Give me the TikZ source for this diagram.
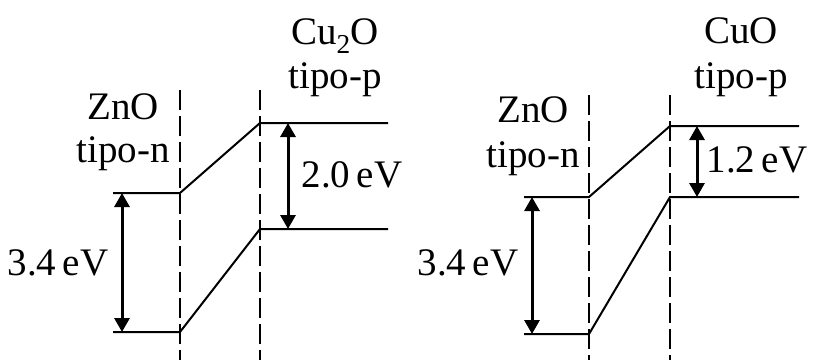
\documentclass[tikz,border=0pt]{standalone}
\usepackage{fontspec}
\setmainfont{Liberation Serif}
\usetikzlibrary{arrows.meta}
\begin{document}
\begin{tikzpicture}[x=1pt,y=-1pt,
  band/.style={line width=2pt},
  iface/.style={line width=1.8pt,dash pattern=on 20pt off 6pt},
  gap/.style={line width=3pt,{Triangle[width=15pt,length=14pt]}-{Triangle[width=15pt,length=14pt]}},
  lbl/.style={font=\fontsize{39}{44}\selectfont,inner sep=0pt,anchor=base},
  mat/.style={font=\fontsize{39}{44}\selectfont,inner sep=0pt,align=center,anchor=base}]
\useasboundingbox (0,0) rectangle (814,360);
% ---- left panel ----
\coordinate (LiA) at (180,90); \coordinate (LiAb) at (180,360);
\coordinate (LiB) at (260,90); \coordinate (LiBb) at (260,360);
\coordinate (LcL) at (113,193); \coordinate (LcM) at (180,193);
\coordinate (LvL) at (113,332); \coordinate (LvM) at (180,332);
\coordinate (LcR) at (260,123); \coordinate (LcE) at (388,123);
\coordinate (LvR) at (260,229); \coordinate (LvE) at (388,229);
\coordinate (La1) at (122,193); \coordinate (La2) at (122,332);
\coordinate (Lb1) at (288,123); \coordinate (Lb2) at (288,229);
\draw[iface] (LiA) -- (LiAb);
\draw[iface] (LiB) -- (LiBb);
\draw[band] (LcL) -- (LcM) -- (LcR) -- (LcE);
\draw[band] (LvL) -- (LvM) -- (LvR) -- (LvE);
\draw[gap] (La1) -- (La2);
\draw[gap] (Lb1) -- (Lb2);
\node[mat] (Lzn) at (123,162) {ZnO\\[-1pt]tipo-n};
\node[mat] (Lcu) at (335,88) {Cu\textsubscript{2}O\\tipo-p};
\node[lbl] (Lg1) at (58,275) {3.4\,eV};
\node[lbl] (Lg2) at (352,187) {2.0\,eV};
% ---- right panel ----
\coordinate (RiA) at (589,95); \coordinate (RiAb) at (589,360);
\coordinate (RiB) at (670,95); \coordinate (RiBb) at (670,360);
\coordinate (RcL) at (524,197); \coordinate (RcM) at (589,197);
\coordinate (RvL) at (524,334); \coordinate (RvM) at (589,334);
\coordinate (RcR) at (670,126); \coordinate (RcE) at (799,126);
\coordinate (RvR) at (670,197); \coordinate (RvE) at (799,197);
\coordinate (Ra1) at (532,197); \coordinate (Ra2) at (532,334);
\coordinate (Rb1) at (697,126); \coordinate (Rb2) at (697,197);
\draw[iface] (RiA) -- (RiAb);
\draw[iface] (RiB) -- (RiBb);
\draw[band] (RcL) -- (RcM) -- (RcR) -- (RcE);
\draw[band] (RvL) -- (RvM) -- (RvR) -- (RvE);
\draw[gap] (Ra1) -- (Ra2);
\draw[gap] (Rb1) -- (Rb2);
\node[mat] (Rzn) at (533,167) {ZnO\\[1pt]tipo-n};
\node[mat] (Rcu) at (741,88) {CuO\\[1pt]tipo-p};
\node[lbl] (Rg1) at (468,275) {3.4\,eV};
\node[lbl] (Rg2) at (757,172) {1.2\,eV};
\end{tikzpicture}
\end{document}
